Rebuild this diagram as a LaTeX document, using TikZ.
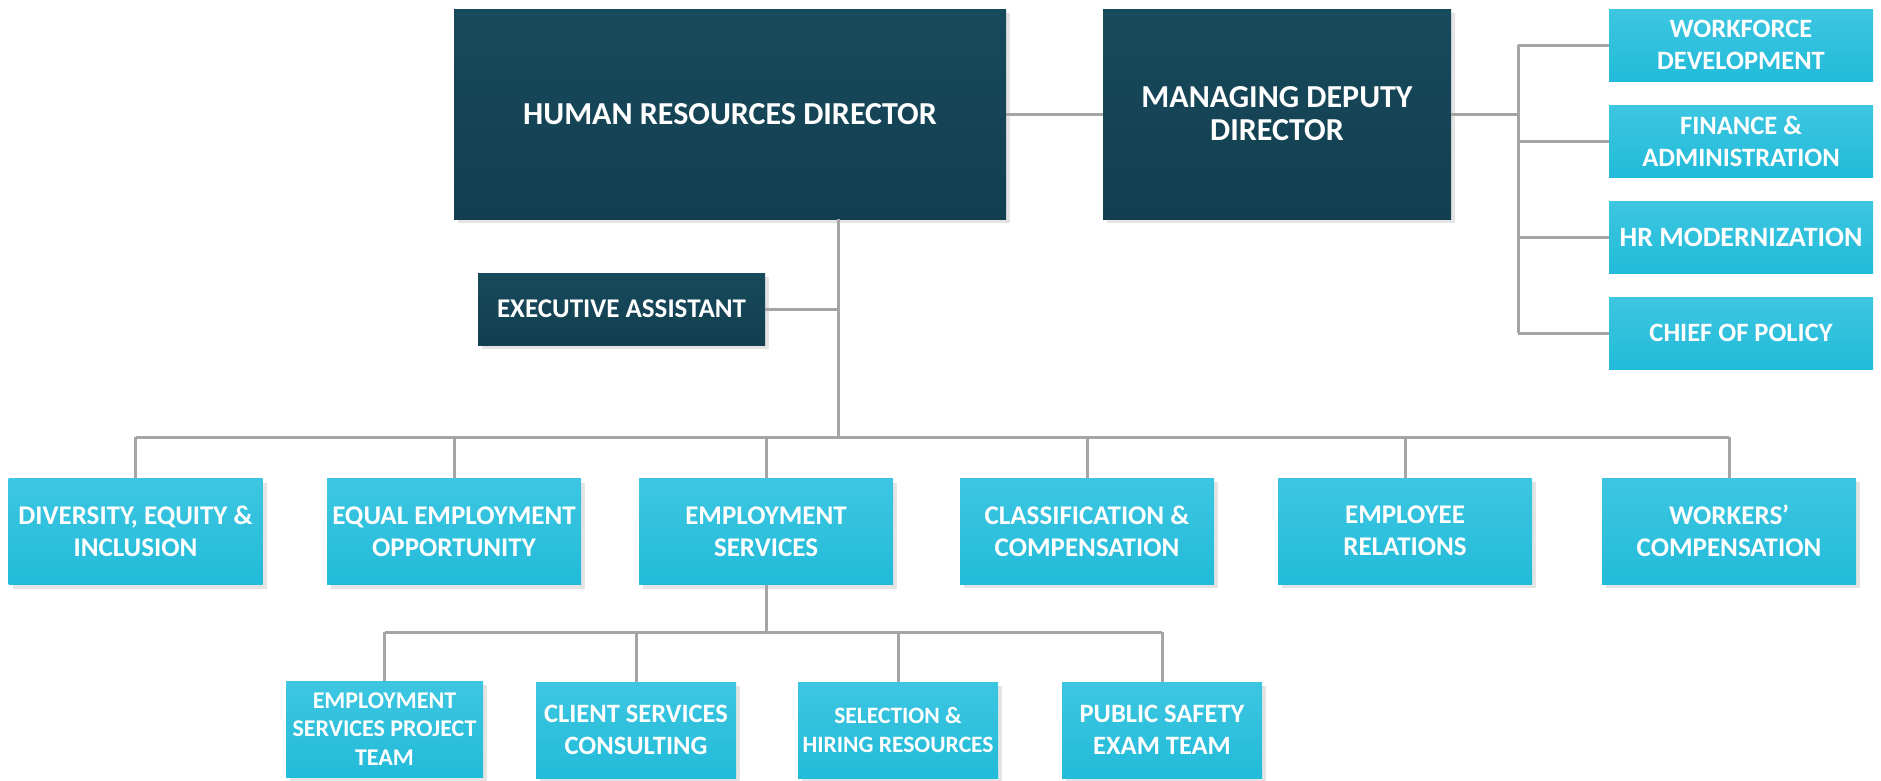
\documentclass[tikz,border=0pt]{standalone}
\usepackage{fontspec}
\setmainfont{Carlito}
\usetikzlibrary{shadows}
\definecolor{dkTop}{HTML}{174A5C}
\definecolor{dkBot}{HTML}{123F4F}
\definecolor{ltTop}{HTML}{3DC6E1}
\definecolor{ltBot}{HTML}{22BBD9}
\definecolor{wire}{HTML}{A5A5A5}
\definecolor{shade}{HTML}{E4E4E4}
\newcommand\fsz[2]{\fontsize{#1}{#2}\selectfont\bfseries}
\tikzset{
  box/.style={rectangle, draw=none, text=white, align=center, inner sep=0pt},
  boxshadow/.style={general shadow={fill=shade, shadow xshift=4pt, shadow yshift=-4pt}},
  darkbox/.style={box, boxshadow, top color=dkTop, bottom color=dkBot},
  lightbox/.style={box, boxshadow, top color=ltTop, bottom color=ltBot},
  sidebox/.style={box, top color=ltTop, bottom color=ltBot,
    minimum width=264pt, minimum height=72pt, font=\fsz{26.5}{32}},
  unitbox/.style={lightbox, minimum width=254pt, minimum height=106pt, font=\fsz{27}{32}},
  teambox/.style={lightbox, minimum width=200pt, minimum height=96pt},
  link/.style={draw=wire, line width=3pt},
}
\begin{document}
\begin{tikzpicture}[x=1pt, y=-1pt]
\useasboundingbox (0,0) rectangle (1881,780);

% top level
\node[darkbox, minimum width=552pt, minimum height=210pt, font=\fsz{32}{38}]
  (hrd) at (730,114) {HUMAN RESOURCES DIRECTOR};
\node[darkbox, minimum width=348pt, minimum height=210pt, font=\fsz{32}{33}]
  (mdd) at (1277,114) {MANAGING DEPUTY\\DIRECTOR};
\node[darkbox, minimum width=287pt, minimum height=72pt, font=\fsz{27}{32}]
  (ea) at (621.5,309) {EXECUTIVE ASSISTANT};

% offices under the managing deputy director
\node[sidebox] (wd)  at (1741,45)  {WORKFORCE\\DEVELOPMENT};
\node[sidebox] (fa)  at (1741,141) {FINANCE \&\\ADMINISTRATION};
\node[sidebox, font=\fsz{28}{32}] (hrm) at (1741,237) {HR MODERNIZATION};
\node[sidebox] (cop) at (1741,333) {CHIEF OF POLICY};

% divisions
\node[unitbox] (dei) at (135.5,531.5) {DIVERSITY, EQUITY \&\\INCLUSION};
\node[unitbox] (eeo) at (454,531.5)   {EQUAL EMPLOYMENT\\OPPORTUNITY};
\node[unitbox] (es)  at (766,531.5)   {EMPLOYMENT\\SERVICES};
\node[unitbox] (cc)  at (1087,531)    {CLASSIFICATION \&\\COMPENSATION};
\node[unitbox] (er)  at (1405,531)    {EMPLOYEE\\RELATIONS};
\node[unitbox] (wc)  at (1729,531)    {WORKERS’\\COMPENSATION};

% employment services teams
\node[teambox, minimum width=197pt, font=\fsz{24}{28.5}] (espt) at (384.5,729)
  {EMPLOYMENT\\SERVICES PROJECT\\TEAM};
\node[teambox, font=\fsz{26.5}{32}] (csc)  at (636,730)  {CLIENT SERVICES\\CONSULTING};
\node[teambox, font=\fsz{23.5}{28.5}] (shr)  at (898,730)  {SELECTION \&\\HIRING RESOURCES};
\node[teambox, font=\fsz{26.5}{32}] (pset) at (1162,730) {PUBLIC SAFETY\\EXAM TEAM};

% junction points
\coordinate (trunk) at (838,437);
\coordinate (spine) at (1518,114);
\coordinate (esbus) at (766,632);

% connectors
\draw[link] (hrd.east) -- (mdd.west);
\draw[link] (mdd.east) -- (spine);
\draw[link] (wd.west -| spine) -- (cop.west -| spine);
\foreach \n in {wd,fa,hrm,cop} \draw[link] (\n.west -| spine) -- (\n.west);

\draw[link] (hrd.south -| trunk) -- (trunk);
\draw[link] (ea.east) -- (ea.east -| trunk);
\draw[link] (dei.north |- trunk) -- (wc.north |- trunk);
\foreach \n in {dei,eeo,es,cc,er,wc} \draw[link] (\n.north |- trunk) -- (\n.north);

\draw[link] (es.south) -- (esbus);
\draw[link] (espt.north |- esbus) -- (pset.north |- esbus);
\foreach \n in {espt,csc,shr,pset} \draw[link] (\n.north |- esbus) -- (\n.north);
\end{tikzpicture}
\end{document}
